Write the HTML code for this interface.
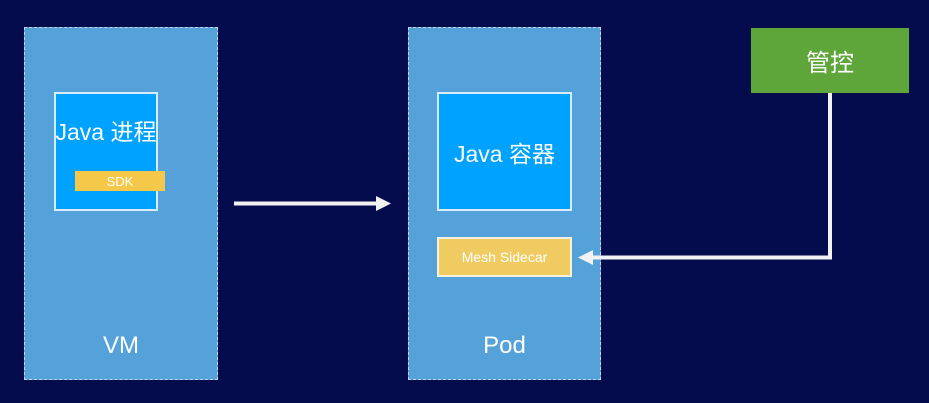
<!DOCTYPE html>
<html><head><meta charset="utf-8"><style>
body{margin:0;width:929px;height:403px;background:#050c4d;position:relative;overflow:hidden;font-family:"Liberation Sans","Noto Sans CJK SC",sans-serif;color:#fff}
div{position:absolute;box-sizing:border-box}
.outer{background:#55a2da;border:1.5px dashed #c8d4e6}
.blue{background:#00a2ff;border:2px solid #d6ecfa;display:flex;justify-content:center}
.c{display:flex;align-items:center;justify-content:center}
</style></head><body>
<div class="outer" style="left:24px;top:27px;width:194px;height:353px"></div>
<div class="outer" style="left:408px;top:27px;width:193px;height:353px"></div>
<div class="blue" style="left:54px;top:92px;width:104px;height:119px"></div>
<div class="c" style="left:54px;top:110px;width:104px;height:40px;font-size:23px">Java 进程</div>
<div class="c" style="left:75px;top:171px;width:90px;height:20px;background:#f5c84a;font-size:13px">SDK</div>
<div class="blue" style="left:437px;top:92px;width:135px;height:119px"></div>
<div class="c" style="left:437px;top:132px;width:135px;height:40px;font-size:23px">Java 容器</div>
<div class="c" style="left:437px;top:237px;width:135px;height:40px;background:#f0cb62;border:2px solid #f4f0de;font-size:14px">Mesh Sidecar</div>
<div class="c" style="left:24px;top:328px;width:194px;height:36px;font-size:24px">VM</div>
<div class="c" style="left:408px;top:328px;width:193px;height:36px;font-size:24px">Pod</div>
<div class="c" style="left:751px;top:28px;width:158px;height:65px;background:#5fa63a;font-size:24px">管控</div>
<svg style="position:absolute;left:0;top:0" width="929" height="403">
<line x1="234" y1="203.5" x2="378" y2="203.5" stroke="#f2f2f2" stroke-width="4"/>
<polygon points="376,196 391,203.5 376,211" fill="#f2f2f2"/>
<polyline points="830,93 830,257.5 590,257.5" fill="none" stroke="#f2f2f2" stroke-width="4"/>
<polygon points="593,250 578,257.5 593,265" fill="#f2f2f2"/>
</svg>
</body></html>
